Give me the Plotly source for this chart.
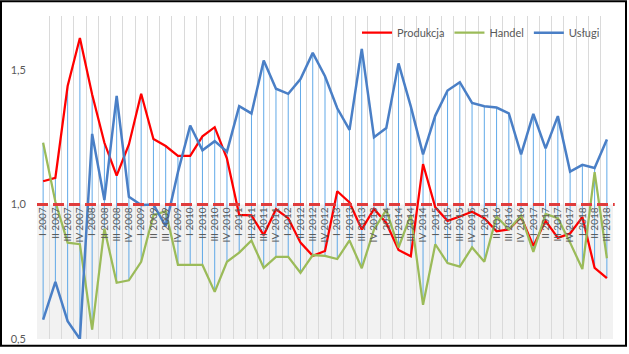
import plotly.graph_objects as go

quarters = ["I", "II", "III", "IV"]
categories = [f"{q} {y}" for y in range(2007, 2018) for q in quarters] + ["I 2018", "II 2018", "III 2018"]

produkcja = [1.086, 1.099, 1.44, 1.618, 1.408, 1.229, 1.107, 1.223, 1.411, 1.243, 1.217, 1.18,
             1.18, 1.253, 1.287, 1.17, 0.961, 0.959, 0.886, 0.982, 0.949, 0.858, 0.809, 0.827,
             1.049, 1.007, 0.907, 0.983, 0.931, 0.831, 0.807, 1.15, 0.989, 0.939, 0.955, 0.973,
             0.949, 0.900, 0.907, 0.953, 0.846, 0.939, 0.876, 0.892, 0.953, 0.764, 0.726]
handel = [1.229, 1.01, 0.858, 0.852, 0.535, 0.91, 0.709, 0.718, 0.787, 0.96, 0.975, 0.775,
          0.775, 0.775, 0.675, 0.787, 0.821, 0.866, 0.764, 0.805, 0.805, 0.746, 0.812, 0.809,
          0.797, 0.866, 0.763, 0.907, 0.98, 0.84, 0.961, 0.627, 0.852, 0.782, 0.769, 0.84,
          0.787, 0.955, 0.907, 0.958, 0.824, 0.965, 0.949, 0.858, 0.76, 1.12, 0.80]
uslugi = [0.572, 0.712, 0.566, 0.5, 1.262, 1.016, 1.403, 1.028, 0.998, 1.0, 0.919, 1.12,
          1.293, 1.201, 1.235, 1.196, 1.365, 1.338, 1.535, 1.43, 1.411, 1.466, 1.563, 1.476,
          1.357, 1.277, 1.578, 1.25, 1.284, 1.524, 1.364, 1.186, 1.33, 1.423, 1.454, 1.377,
          1.365, 1.36, 1.338, 1.186, 1.336, 1.208, 1.328, 1.122, 1.147, 1.135, 1.241]

baseline = 1.0
y_range = [0.5, 1.7]
y_ticks = [0.5, 1.0, 1.5]

W, H = 629, 354
ML, MR, MT, MB = 37, 16, 16, 9

# high-low lines (from min to max of the three series in each category)
hl_x, hl_y = [], []
for c, a, b, d in zip(categories, produkcja, handel, uslugi):
    hl_x += [c, c, None]
    hl_y += [min(a, b, d), max(a, b, d), None]

fig = go.Figure()
fig.add_trace(go.Scatter(x=hl_x, y=hl_y, mode="lines", showlegend=False, hoverinfo="skip",
                         line=dict(color="rgba(80,160,230,0.9)", width=1)))
fig.add_trace(go.Scatter(x=categories, y=produkcja, mode="lines", name="Produkcja",
                         line=dict(color="#ff0000", width=2.25)))
fig.add_trace(go.Scatter(x=categories, y=handel, mode="lines", name="Handel",
                         line=dict(color="#9bbb59", width=2.25)))
fig.add_trace(go.Scatter(x=categories, y=uslugi, mode="lines", name="Usługi",
                         line=dict(color="#4a7fc6", width=2.5)))

pw = W - ML - MR
ph = H - MT - MB
def px_x(p):
    return (p - ML) / pw
def px_y(p):
    return (H - MB - p) / ph

shapes = [
    dict(type="rect", xref="paper", yref="y", x0=0, x1=1, y0=y_range[0], y1=baseline,
         fillcolor="#f2f2f2", line=dict(width=0), layer="below"),
    dict(type="line", xref="paper", yref="y", x0=0, x1=1.003, y0=baseline, y1=baseline,
         line=dict(color="#e03c3c", width=3, dash="11px,5px"), layer="above"),
    dict(type="rect", xref="paper", yref="paper", x0=px_x(1), x1=px_x(626), y0=px_y(1), y1=px_y(352),
         line=dict(color="#000000", width=2), fillcolor="rgba(0,0,0,0)", layer="above"),
]

axis_pos = (baseline - y_range[0]) / (y_range[1] - y_range[0])

fig.update_layout(
    width=W, height=H,
    margin=dict(l=ML, r=MR, t=MT, b=MB),
    paper_bgcolor="white", plot_bgcolor="white",
    separators=", ",
    font=dict(family="Lato, Liberation Sans, sans-serif", color="#595959", size=11),
    showlegend=True,
    legend=dict(orientation="h", x=px_x(357), xanchor="left", y=px_y(33), yanchor="middle",
                font=dict(size=11, color="#595959"), bgcolor="rgba(0,0,0,0)", itemwidth=30,
                traceorder="normal"),
    shapes=shapes,
    xaxis=dict(type="category", categoryorder="array", categoryarray=categories,
               range=[-0.5, len(categories) - 0.5],
               anchor="free", position=axis_pos, tickson="boundaries",
               showgrid=True, gridcolor="#dadada", gridwidth=1,
               showline=False, zeroline=False, ticks="", tickangle=-90,
               tickfont=dict(size=10, color="#595959")),
    yaxis=dict(range=y_range, tickvals=y_ticks, tickformat=".1f", showgrid=False,
               zeroline=False, showline=False, ticks="", ticklabelstandoff=10,
               tickfont=dict(size=11, color="#595959")),
)

fig.write_html("out.html")
